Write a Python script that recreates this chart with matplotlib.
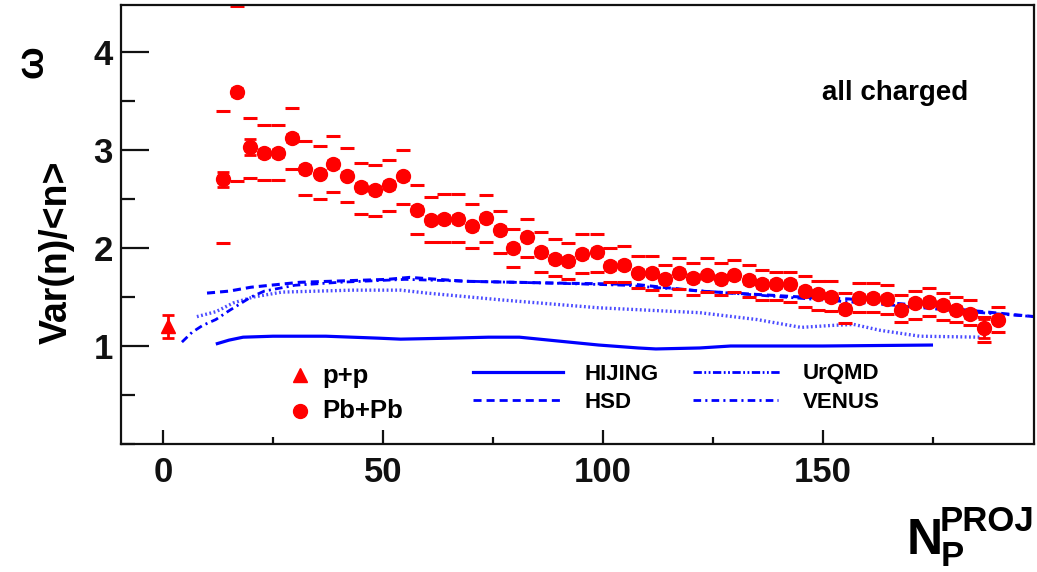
import matplotlib
matplotlib.use("Agg")
import matplotlib.pyplot as plt
from matplotlib.lines import Line2D
from matplotlib.ticker import MultipleLocator

plt.rcParams['font.family'] = ['Liberation Sans', 'DejaVu Sans']
plt.rcParams['lines.scale_dashes'] = False

# --- p+p ---
pp_n = [1.2]
pp_w = [1.20]
pp_err = [0.12]

# --- Pb+Pb ---
pb_n = [13.6, 16.8, 19.8, 23.0, 26.2, 29.4, 32.3, 35.7, 38.6, 41.7,
        44.9, 48.2, 51.4, 54.5, 57.7, 60.8, 63.9, 67.0, 70.2, 73.3,
        76.6, 79.6, 82.8, 86.0, 89.0, 92.1, 95.3, 98.6, 101.6, 104.8,
        108.0, 111.2, 114.1, 117.3, 120.5, 123.7, 126.8, 129.8, 133.2, 136.2,
        139.3, 142.5, 145.8, 148.8, 151.8, 155.0, 158.2, 161.4, 164.5, 167.7,
        170.9, 174.1, 177.2, 180.2, 183.3, 186.6, 189.7]
pb_w = [2.70, 3.59, 3.03, 2.97, 2.97, 3.12, 2.81, 2.76, 2.86, 2.74,
        2.62, 2.59, 2.64, 2.73, 2.39, 2.29, 2.30, 2.30, 2.22, 2.31,
        2.18, 2.00, 2.11, 1.96, 1.89, 1.87, 1.94, 1.96, 1.82, 1.83,
        1.75, 1.75, 1.68, 1.75, 1.69, 1.72, 1.68, 1.72, 1.67, 1.63,
        1.63, 1.63, 1.56, 1.53, 1.50, 1.38, 1.49, 1.49, 1.48, 1.37,
        1.44, 1.45, 1.42, 1.37, 1.33, 1.18, 1.27]
pb_stat = [0.08, 0.04, 0.08, 0.04, 0.04, 0.04, 0.04, 0.04, 0.04, 0.04,
           0.04, 0.04, 0.04, 0.04, 0.04, 0.04, 0.04, 0.04, 0.04, 0.04,
           0.04, 0.04, 0.04, 0.04, 0.04, 0.04, 0.04, 0.04, 0.04, 0.04,
           0.04, 0.04, 0.04, 0.04, 0.04, 0.04, 0.04, 0.04, 0.04, 0.04,
           0.04, 0.04, 0.04, 0.04, 0.04, 0.04, 0.04, 0.04, 0.04, 0.04,
           0.04, 0.04, 0.04, 0.04, 0.04, 0.10, 0.04]
pb_sys_hi = [3.40, 4.47, 3.33, 3.26, 3.26, 3.43, 3.09, 3.04, 3.14, 3.02,
             2.87, 2.85, 2.90, 3.00, 2.64, 2.52, 2.55, 2.55, 2.45, 2.54,
             2.38, 2.19, 2.30, 2.16, 2.09, 2.05, 2.14, 2.14, 2.00, 2.02,
             1.92, 1.92, 1.83, 1.90, 1.85, 1.90, 1.85, 1.88, 1.83, 1.78,
             1.76, 1.76, 1.71, 1.66, 1.66, 1.54, 1.64, 1.64, 1.62, 1.52,
             1.56, 1.59, 1.54, 1.50, 1.47, 1.30, 1.40]
pb_sys_lo = [2.05, 2.68, 2.71, 2.69, 2.69, 2.81, 2.54, 2.50, 2.57, 2.47,
             2.35, 2.33, 2.38, 2.45, 2.14, 2.06, 2.06, 2.06, 2.00, 2.06,
             1.95, 1.81, 1.91, 1.76, 1.71, 1.68, 1.74, 1.76, 1.65, 1.65,
             1.59, 1.57, 1.52, 1.58, 1.52, 1.55, 1.52, 1.55, 1.50, 1.47,
             1.47, 1.45, 1.40, 1.37, 1.36, 1.23, 1.35, 1.35, 1.33, 1.24,
             1.28, 1.31, 1.27, 1.24, 1.21, 1.04, 1.14]

# --- models ---
hijing_n = [12, 15, 18.2, 25, 37, 49, 54, 65, 74, 81, 90, 99, 108, 112, 122, 129, 150, 175]
hijing_w = [1.02, 1.06, 1.09, 1.10, 1.10, 1.08, 1.07, 1.08, 1.09, 1.09, 1.05, 1.01, 0.98, 0.97, 0.98, 1.00, 1.00, 1.01]

hsd_n = [10, 15, 20, 31, 51, 56, 69, 92, 107, 122, 145, 156, 175, 198]
hsd_w = [1.54, 1.56, 1.60, 1.65, 1.68, 1.70, 1.66, 1.64, 1.63, 1.56, 1.50, 1.48, 1.40, 1.30]

venus_n = [4.3, 6.6, 9, 12, 15, 20, 23, 30, 40, 55, 70, 90, 105, 120, 135, 150, 165, 180, 198]
venus_w = [1.04, 1.14, 1.21, 1.27, 1.36, 1.50, 1.56, 1.62, 1.65, 1.68, 1.66, 1.64, 1.62, 1.57, 1.52, 1.47, 1.42, 1.36, 1.30]

urqmd_n = [7.7, 12, 16, 20.5, 27, 43, 54, 60, 77, 99, 122, 135, 145, 152, 157, 163, 172, 186]
urqmd_w = [1.30, 1.35, 1.44, 1.50, 1.55, 1.57, 1.57, 1.54, 1.47, 1.39, 1.34, 1.27, 1.19, 1.21, 1.22, 1.16, 1.10, 1.09]

RED = '#ff0000'
BLUE = '#0000ff'
W, H = 1037, 572

dash_hsd = (0, (5.8, 3.6))
dash_venus = (0, (5.5, 3.0, 1.5, 3.0))
dash_urqmd = (0, (1.3, 1.8))
dash_urqmd_leg = (0, (6.0, 1.8, 1.3, 1.8, 1.3, 1.8))

fig = plt.figure(figsize=(W / 100, H / 100), dpi=100)
ax = fig.add_axes([121 / W, (H - 444) / H, (1034 - 121) / W, (444 - 5) / H])

ax.plot(hijing_n, hijing_w, color=BLUE, lw=2.3, solid_capstyle='butt')
ax.plot(hsd_n, hsd_w, color=BLUE, lw=2.2, linestyle=dash_hsd)
ax.plot(venus_n, venus_w, color=BLUE, lw=2.0, linestyle=dash_venus)
ax.plot(urqmd_n, urqmd_w, color=BLUE, lw=2.4, linestyle=dash_urqmd, alpha=0.7)

# systematic errors as short bars
ax.plot(pb_n, pb_sys_hi, linestyle='none', marker='_', ms=10, mew=2.2, color=RED)
ax.plot(pb_n, pb_sys_lo, linestyle='none', marker='_', ms=10, mew=2.2, color=RED)

ax.errorbar(pb_n, pb_w, yerr=pb_stat, fmt='o', ms=10, color=RED, ecolor=RED,
            elinewidth=2, capsize=4, capthick=2, zorder=5)
ax.errorbar(pp_n, pp_w, yerr=pp_err, fmt='^', ms=10, color=RED, ecolor=RED,
            elinewidth=2, capsize=4, capthick=2, zorder=5)

ax.set_xlim(-9.55, 197.95)
ax.set_ylim(0, 4.48)
ax.xaxis.set_major_locator(MultipleLocator(50))
ax.xaxis.set_minor_locator(MultipleLocator(25))
ax.set_yticks([1, 2, 3, 4])
ax.yaxis.set_minor_locator(MultipleLocator(0.5))
ax.tick_params(axis='both', which='both', direction='in', width=1.6, colors='#111111',
               top=False, right=False)
ax.tick_params(axis='y', which='major', length=20, pad=6)
ax.tick_params(axis='y', which='minor', length=10)
ax.tick_params(axis='x', which='major', length=10, pad=9)
ax.tick_params(axis='x', which='minor', length=5)
for lab in ax.get_xticklabels() + ax.get_yticklabels():
    lab.set_fontsize(25)
    lab.set_fontweight('bold')
    lab.set_color('#111111')
for sp in ax.spines.values():
    sp.set_linewidth(1.6)
    sp.set_color('#111111')

# axis titles
fig.text(57 / W, 1 - 252 / H, 'Var(n)/<n>', rotation=90, fontsize=27, fontweight='bold',
         ha='center', va='center')
fig.text(33 / W, 1 - 62 / H, '\u03c9', rotation=90, fontsize=28, fontweight='bold',
         ha='center', va='center')
fig.text(907 / W, 1 - 554 / H, 'N', fontsize=36, fontweight='bold', ha='left', va='baseline')
fig.text(940 / W, 1 - 531 / H, 'PROJ', fontsize=25, fontweight='bold', ha='left', va='baseline')
fig.text(941 / W, 1 - 566 / H, 'P', fontsize=25, fontweight='bold', ha='left', va='baseline')

fig.text(822 / W, 1 - 93 / H, 'all charged', fontsize=20, fontweight='bold', ha='left', va='center')

# legend: markers
tf = fig.transFigure
fig.add_artist(Line2D([300 / W], [1 - 375 / H], marker='^', ms=10, color=RED, linestyle='none', transform=tf))
fig.add_artist(Line2D([300 / W], [1 - 411 / H], marker='o', ms=10, color=RED, linestyle='none', transform=tf))
fig.text(322 / W, 1 - 376 / H, 'p+p', fontsize=18.5, fontweight='bold', ha='left', va='center')
fig.text(322 / W, 1 - 411 / H, 'Pb+Pb', fontsize=18.5, fontweight='bold', ha='left', va='center')

# legend: models
leg_items = [
    (473, 563, 372, 'HIJING', '-', 2.3, 585),
    (473, 560, 400, 'HSD', dash_hsd, 2.0, 585),
    (693, 780, 372, 'UrQMD', dash_urqmd_leg, 2.0, 803),
    (693, 778, 400, 'VENUS', dash_venus, 2.0, 803),
]
for x0, x1, y, name, ls, lw, tx in leg_items:
    fig.add_artist(Line2D([x0 / W, x1 / W], [1 - y / H, 1 - y / H], color=BLUE, lw=lw,
                          linestyle=ls, transform=tf))
    fig.text(tx / W, 1 - (y + 2) / H, name, fontsize=16, fontweight='bold', ha='left', va='center')

fig.savefig('out.png', dpi=100)
